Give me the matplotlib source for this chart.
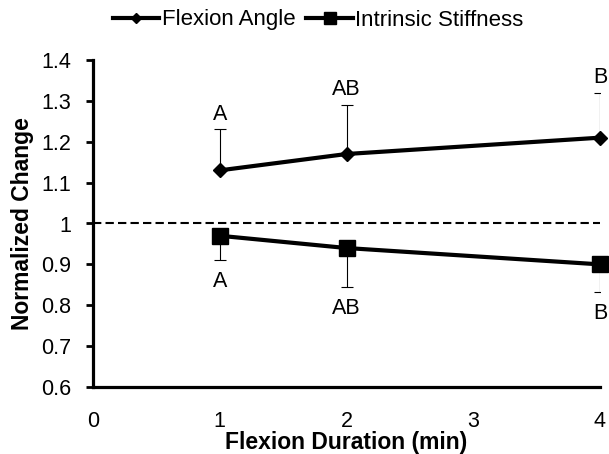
import matplotlib
matplotlib.use("Agg")
import matplotlib.pyplot as plt
import numpy as np

plt.rcParams['font.family'] = ['Liberation Sans', 'DejaVu Sans']

duration = [1, 2, 4]
flexion_angle = [1.13, 1.17, 1.21]
flexion_err = [0.10, 0.12, 0.11]
flexion_letters = ["A", "AB", "B"]
stiffness = [0.97, 0.94, 0.90]
stiffness_err = [0.06, 0.095, 0.067]
stiffness_letters = ["A", "AB", "B"]
xticks = [0, 1, 2, 3, 4]
yticks = [0.6, 0.7, 0.8, 0.9, 1.0, 1.1, 1.2, 1.3, 1.4]
ytick_labels = ["0.6", "0.7", "0.8", "0.9", "1", "1.1", "1.2", "1.3", "1.4"]

fig = plt.figure(figsize=(6.09, 4.54), dpi=100)
ax = fig.add_axes([93/609, 1-387/454, 507/609, 327/454])

fs = 15.5
ax.axhline(1.0, color='black', lw=1.5, dashes=(4, 2), zorder=1)

# one-sided error bars
zeros = [0, 0, 0]
ax.errorbar(duration, flexion_angle, yerr=[zeros, flexion_err], fmt='none',
            ecolor='black', elinewidth=0.8, capsize=4.3, capthick=0.8, zorder=2)
ax.errorbar(duration, stiffness, yerr=[stiffness_err, zeros], fmt='none',
            ecolor='black', elinewidth=0.8, capsize=4.3, capthick=0.8, zorder=2)

l1, = ax.plot(duration, flexion_angle, color='black', lw=3, marker='D',
              markersize=7.6, label='Flexion Angle', clip_on=False, zorder=3)
l2, = ax.plot(duration, stiffness, color='black', lw=3, marker='s',
              markersize=11.5, label='Intrinsic Stiffness', clip_on=False, zorder=3)

for xv, yv, ev, t in zip(duration, flexion_angle, flexion_err, flexion_letters):
    ax.text(xv, yv + ev + 0.037, t, ha='center', va='center', fontsize=fs, clip_on=False)
for xv, yv, ev, t in zip(duration, stiffness, stiffness_err, stiffness_letters):
    ax.text(xv, yv - ev - 0.052, t, ha='center', va='center', fontsize=fs, clip_on=False)

ax.set_xlim(0, 4)
ax.set_ylim(0.6, 1.4)
ax.set_xticks(xticks)
ax.set_xticklabels([str(v) for v in xticks])
ax.set_yticks(yticks)
ax.set_yticklabels(ytick_labels)
ax.tick_params(axis='x', length=0, pad=17, labelsize=fs)
ax.tick_params(axis='y', length=5, width=2, pad=11, labelsize=fs, direction='out')
for s in ['top', 'right']:
    ax.spines[s].set_visible(False)
for s in ['left', 'bottom']:
    ax.spines[s].set_linewidth(2.3)

ax.set_xlabel('Flexion Duration (min)', fontsize=16.5, fontweight='bold')
ax.xaxis.set_label_coords(0.5, -0.135)
ax.set_ylabel('Normalized Change', fontsize=16.5, fontweight='bold')
ax.yaxis.set_label_coords(-0.116, 0.5)

fig.legend(handles=[l1, l2], loc='center', bbox_to_anchor=(318/609, 1-20/454),
           bbox_transform=fig.transFigure, ncol=2, frameon=False, fontsize=16,
           handlelength=2.1, handletextpad=0.1, columnspacing=0.5, markerscale=0.7,
           borderpad=0, borderaxespad=0)

fig.savefig('out.png', dpi=100)
